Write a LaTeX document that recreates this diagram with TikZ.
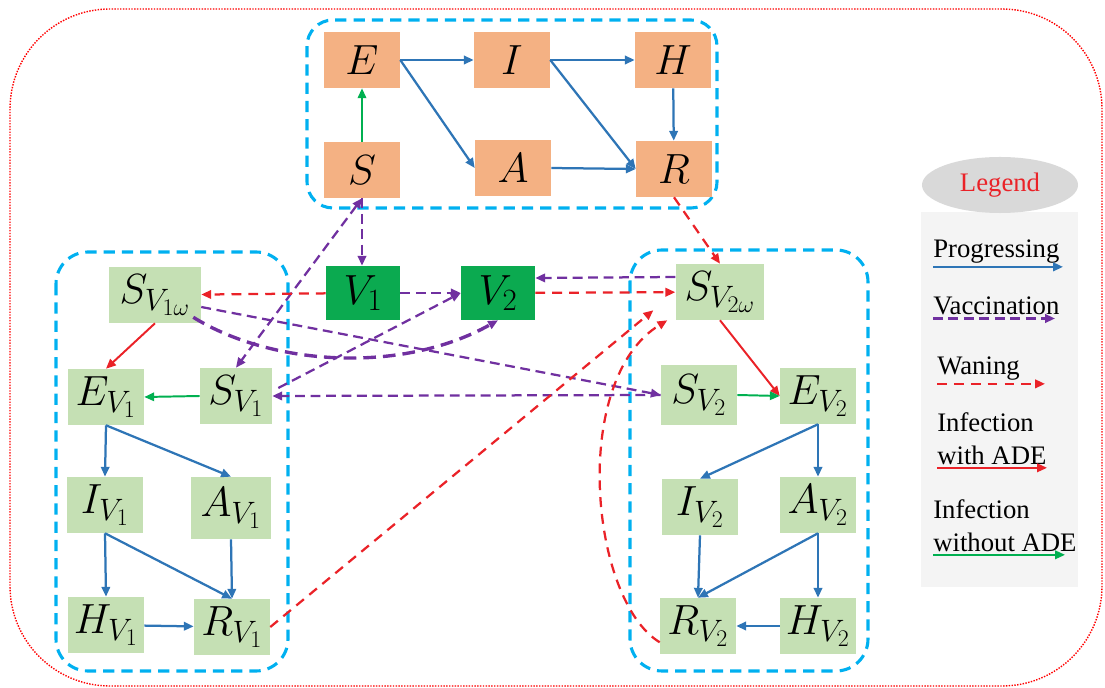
\RequirePackage{fix-cm}
\documentclass[tikz,border=0pt]{standalone}
\usepackage{amsmath}
\usepackage{fontspec}
\newfontfamily\legfont{Liberation Serif}
\usepackage{tikz}
\usetikzlibrary{calc}
\usetikzlibrary{shapes.geometric}
\usetikzlibrary{arrows.meta}

\DeclareMathSizes{30}{30}{22}{17}

\definecolor{salmon}{HTML}{F4B183}
\definecolor{lgreen}{HTML}{C5E0B4}
\definecolor{vgreen}{HTML}{0BAA50}
\definecolor{groupcyan}{HTML}{00B0F0}
\definecolor{progblue}{HTML}{2E75B6}
\definecolor{vaccpurple}{HTML}{7030A0}
\definecolor{waneRed}{HTML}{EA2228}
\definecolor{infgreen}{HTML}{00B050}
\definecolor{leggray}{HTML}{D9D9D9}
\definecolor{legbg}{HTML}{F4F4F4}

\tikzset{
  box/.style={inner sep=0pt, minimum width=1.9cm, minimum height=1.4cm, font=\fontsize{30}{36}\selectfont},
  topbox/.style={box, fill=salmon},
  vaccbox/.style={box, fill=vgreen, minimum width=1.85cm, minimum height=1.35cm},
  subbox/.style={box, fill=lgreen},
  widebox/.style={subbox, minimum width=2.3cm},
  group/.style={draw=groupcyan, line width=2.2pt, dash pattern=on 8pt off 5pt},
  prog/.style={->, draw=progblue, line width=1.6pt},
  vacc/.style={->, draw=vaccpurple, line width=1.6pt, dash pattern=on 7pt off 4pt},
  wane/.style={->, draw=waneRed, line width=1.6pt, dash pattern=on 7pt off 5pt},
  ade/.style={->, draw=waneRed, line width=1.4pt},
  noade/.style={->, draw=infgreen, line width=1.4pt},
  legtext/.style={inner sep=0pt, font=\legfont\fontsize{19}{23.5}\selectfont, align=left}
}

\begin{document}
\begin{tikzpicture}[x=0.025cm, y=-0.025cm, >={Triangle[length=7pt,width=6pt]}]
\useasboundingbox (0,0) rectangle (1105,688);
\draw[draw=red, densely dotted, line width=1pt, rounded corners=2.5cm] (10,9) rectangle (1102,686);
\draw[group, rounded corners=0.65cm] (307,20) rectangle (717,208);
\draw[group, rounded corners=0.8cm] (56,252) rectangle (288,671);
\draw[group, rounded corners=0.8cm] (630,250) rectangle (868,671);

\node (E) at (362,60) [topbox] {$E$};
\node (I) at (512,60) [topbox] {$I$};
\node (H) at (673,60) [topbox] {$H$};
\node (S) at (362,170) [topbox] {$S$};
\node (A) at (513,168) [topbox] {$A$};
\node (R) at (674,169) [topbox] {$R$};

\node (V1) at (363,293) [vaccbox] {$V_1$};
\node (V2) at (498,293) [vaccbox] {$V_2$};

\node (Sv1w) at (155,295) [widebox] {$S_{V_{1\omega}}$};
\node (Ev1) at (106,397) [subbox] {$E_{V_1}$};
\node (Sv1) at (236,396) [subbox, minimum width=1.8cm] {$S_{V_1}$};
\node (Iv1) at (105,505) [subbox] {$I_{V_1}$};
\node (Av1) at (231,508) [subbox, minimum width=2cm, minimum height=1.55cm] {$A_{V_1}$};
\node (Hv1) at (106,625) [subbox] {$H_{V_1}$};
\node (Rv1) at (232,627) [subbox] {$R_{V_1}$};

\node (Sv2w) at (720,292) [widebox, minimum width=2.22cm] {$S_{V_{2\omega}}$};
\node (Sv2) at (699,395) [subbox, minimum height=1.5cm] {$S_{V_2}$};
\node (Ev2) at (818,396) [subbox] {$E_{V_2}$};
\node (Iv2) at (700,507) [subbox] {$I_{V_2}$};
\node (Av2) at (818,505) [subbox] {$A_{V_2}$};
\node (Rv2) at (698,626) [subbox] {$R_{V_2}$};
\node (Hv2) at (818,626) [subbox] {$H_{V_2}$};

\draw[noade] (S) -- (E);
\draw[prog] (E.east) -- (I.west);
\draw[prog] (E.east) -- (A.west);
\draw[prog] (I.east) -- (H.west);
\draw[prog] (I.east) -- (R.west);
\draw[prog] (H) -- (R);
\draw[prog] (A.east) -- (R.west);

\draw[vacc] (S.south) -- (S.south |- V1.north);
\draw[vacc, <->] (S.south) -- (Sv1.north);
\draw[vacc] (V1) -- (V2);
\draw[wane] (V1) -- (Sv1w);
\draw[wane] (V2) -- (Sv2w);
\draw[vacc] ($(Sv2w.west)+(0,-15)$) -- ($(V2.east)+(0,-15)$);
\draw[wane] (R.south) -- (Sv2w.north);
\draw[vacc] ($(Sv1.east)+(6,-8)$) -- (V2.west);
\draw[vacc] (Sv2.west) -- (Sv1.east);
\draw[vacc] ($(Sv1w.east)+(0,12)$) -- (Sv2.west);
\draw[vacc, line width=2.4pt, dash pattern=on 9pt off 5pt] ($(Sv1w.south east)+(-8,-6)$) .. controls (270,365) and (400,375) .. (V2.south);
\draw[wane] (Rv1.east) -- ($(Sv2w.south west)+(-22,-10)$);
\draw[wane] ($(Rv2.south west)+(0,-12)$) .. controls (590,600) and (570,380) .. ($(Sv2w.south west)+(-8,0)$);

\draw[ade] (Sv1w.south) -- (Ev1.north);
\draw[noade] (Sv1.west) -- (Ev1.east);
\draw[ade] (Sv2w.south) -- (Ev2.west);
\draw[noade] (Sv2.east) -- (Ev2.west);

\draw[prog] (Ev1.south) -- (Iv1.north);
\draw[prog] (Ev1.south) -- (Av1.north);
\draw[prog] (Iv1.south) -- (Hv1.north);
\draw[prog] (Iv1.south) -- (Rv1.north);
\draw[prog] (Av1.south) -- (Rv1.north);
\draw[prog] (Hv1) -- (Rv1);

\draw[prog] (Ev2.south) -- (Iv2.north);
\draw[prog] (Ev2.south) -- (Av2.north);
\draw[prog] (Iv2.south) -- (Rv2.north);
\draw[prog] (Av2.south) -- (Rv2.north);
\draw[prog] (Av2.south) -- (Hv2.north);
\draw[prog] (Hv2) -- (Rv2);

\fill[legbg] (921,212) rectangle (1078,587);
\node (leg) at (1000,185) [ellipse, fill=leggray, minimum width=3.9cm, minimum height=1.4cm, text=waneRed, font=\legfont\fontsize{19}{23}\selectfont] {Legend};
\node (lprog) at (933,258) [legtext, anchor=base west] {Progressing};
\draw[prog] ([yshift=-2pt]lprog.south west) -- ++(130,0);
\node (lvacc) at (933,315) [legtext, anchor=base west] {Vaccination};
\draw[vacc] ([yshift=-2pt]lvacc.south west) -- ++(122,0);
\node (lwane) at (937,375) [legtext, anchor=base west] {Waning};
\draw[wane] ([yshift=-2pt]lwane.south west) -- ++(108,0);
\node (lade) at (937,465) [legtext, anchor=south west] {Infection\\with ADE};
\draw[ade] ([yshift=-2pt]lade.south west) -- ++(110,0);
\node (lnoade) at (933,552) [legtext, anchor=south west] {Infection\\without ADE};
\draw[noade] ([yshift=-2pt]lnoade.south west) -- ++(132,0);
\end{tikzpicture}
\end{document}
